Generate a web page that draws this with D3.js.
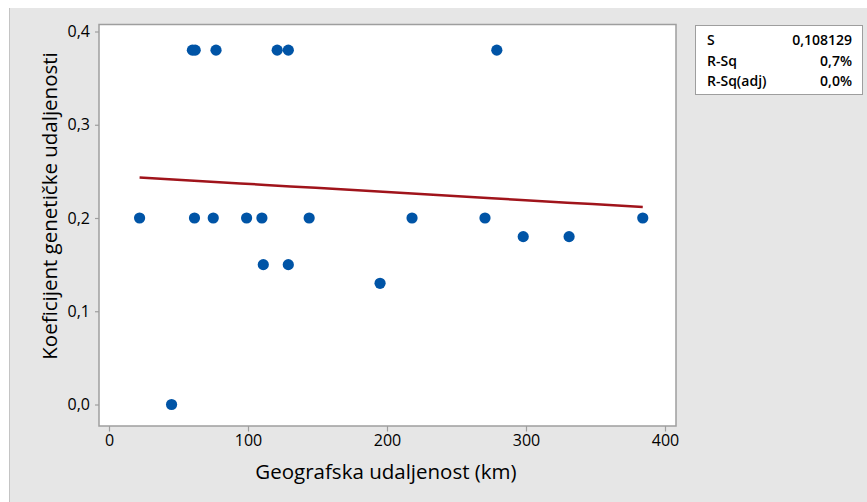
<!DOCTYPE html>
<html>
<head>
<meta charset="utf-8" />
<title>Fitted line plot</title>
<style>
* { padding: 0; margin: 0; }
body { width: 867px; height: 502px; background: #fff; overflow: hidden; }
svg text { font-family: "Open Sans", "Noto Sans", sans-serif; fill: #000; }
</style>
</head>
<body>
<div id="graph"></div>
<script src="https://cdn.jsdelivr.net/npm/d3@7/dist/d3.min.js"></script>
<script>
    // distance (km) and genetic distance coefficient
    var distKm = [60, 62, 77, 121, 129, 279,
                  22, 61.5, 75, 99, 110, 144, 218, 270.5, 384,
                  298, 331, 111, 129, 195, 45]
    var geneDist = [0.38, 0.38, 0.38, 0.38, 0.38, 0.38,
                    0.2, 0.2, 0.2, 0.2, 0.2, 0.2, 0.2, 0.2, 0.2,
                    0.18, 0.18, 0.15, 0.15, 0.13, 0.0]
    var xTicks = [0, 100, 200, 300, 400]
    var yTicks = [0, 0.1, 0.2, 0.3, 0.4]
    var statLabels = ["S", "R-Sq", "R-Sq(adj)"]
    var statValues = ["0,108129", "0,7%", "0,0%"]

    var width = 867, height = 502
    var plot = {left: 99, top: 24.5, right: 676, bottom: 426}

    var svg = d3.select("#graph").append("svg")
        .attr("width", width).attr("height", height)

    var fmt = d3.formatLocale({decimal: ",", thousands: ".", grouping: [3], currency: ["", ""]}).format(".1f")

    var x = d3.scaleLinear().domain([0, 400]).range([109, 665])
    var y = d3.scaleLinear().domain([0, 0.4]).range([404.5, 31.5])

    // grey background of the graph region
    svg.append("rect")
        .attr("x", 9).attr("y", 8).attr("width", width - 9).attr("height", height - 8)
        .attr("fill", "#e6e6e6")
    svg.append("line")
        .attr("x1", 9.5).attr("x2", 9.5).attr("y1", 8).attr("y2", height)
        .attr("stroke", "#c4c4c4")

    // plot area
    svg.append("rect")
        .attr("x", plot.left).attr("y", plot.top)
        .attr("width", plot.right - plot.left).attr("height", plot.bottom - plot.top)
        .attr("fill", "#fff").attr("stroke", "#9e9e9e").attr("stroke-width", 1.5)

    var xAxis = svg.append("g")
        .attr("transform", "translate(0," + plot.bottom + ")")
        .call(d3.axisBottom(x).tickValues(xTicks).tickSize(5.5).tickPadding(3.5))
    var yAxis = svg.append("g")
        .attr("transform", "translate(" + plot.left + ",0)")
        .call(d3.axisLeft(y).tickValues(yTicks).tickSize(4).tickPadding(5).tickFormat(fmt))

    ;[xAxis, yAxis].forEach(function(a) {
        a.select(".domain").remove()
        a.selectAll(".tick line").attr("stroke", "#9e9e9e").attr("stroke-width", 1.2)
        a.selectAll(".tick text").attr("font-size", 16).attr("fill", "#000")
            .attr("font-family", "'Open Sans', 'Noto Sans', sans-serif")
    })

    // least squares fit through the points
    var mx = d3.mean(distKm), my = d3.mean(geneDist)
    var sxy = d3.sum(distKm, function(d, i) { return (d - mx) * (geneDist[i] - my) })
    var sxx = d3.sum(distKm, function(d) { return (d - mx) * (d - mx) })
    var slope = sxy / sxx, icpt = my - slope * mx
    var ext = d3.extent(distKm)
    var fit = d3.range(0, 21).map(function(i) {
        var v = ext[0] + (ext[1] - ext[0]) * i / 20
        return [v, icpt + slope * v]
    })

    svg.append("path")
        .datum(fit)
        .attr("fill", "none")
        .attr("stroke", "#a0141b")
        .attr("stroke-width", 2.5)
        .attr("d", d3.line().x(function(d) { return x(d[0]) }).y(function(d) { return y(d[1]) }))

    svg.append("g")
        .selectAll("circle")
        .data(distKm)
        .enter().append("circle")
        .attr("cx", function(d) { return x(d) })
        .attr("cy", function(d, i) { return y(geneDist[i]) })
        .attr("r", 5.6)
        .attr("fill", "#0054a6")

    // axis titles
    svg.append("text")
        .attr("x", 386).attr("y", 479)
        .attr("text-anchor", "middle").attr("font-size", 20.5).attr("font-weight", 500)
        .text("Geografska udaljenost (km)")
    svg.append("text")
        .attr("transform", "translate(57,206) rotate(-90)")
        .attr("text-anchor", "middle").attr("font-size", 20.5).attr("font-weight", 500)
        .text("Koeficijent genetičke udaljenosti")

    // summary box
    svg.append("rect")
        .attr("x", 695.5).attr("y", 25.5).attr("width", 167).attr("height", 69)
        .attr("fill", "#fff").attr("stroke", "#9e9e9e")
    var rows = svg.append("g").selectAll("g")
        .data(statLabels).enter().append("g")
        .attr("transform", function(d, i) { return "translate(0," + (45 + i * 20.5) + ")" })
    rows.append("text").attr("x", 707).attr("font-size", 14).attr("font-weight", 600)
        .text(function(d) { return d })
    rows.append("text").attr("x", 852).attr("text-anchor", "end").attr("font-size", 14).attr("font-weight", 600)
        .text(function(d, i) { return statValues[i] })
</script>
</body>
</html>
